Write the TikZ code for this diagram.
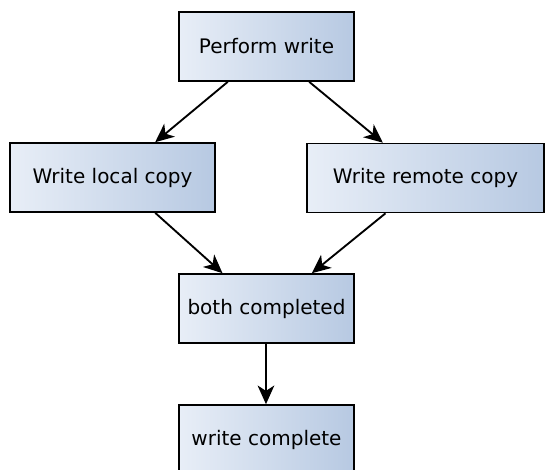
\documentclass[tikz,border=0pt]{standalone}
\usepackage{fontspec}
\setmainfont{DejaVu Sans}
\usepackage{tikz}
\usetikzlibrary{arrows.meta}
\usetikzlibrary{positioning}

\definecolor{boxleft}{HTML}{E8EEF7}
\definecolor{boxright}{HTML}{B7C9E2}

\tikzset{
    blk/.style={draw=black, line width=1.2pt, left color=boxleft, right color=boxright,
        minimum height=51.75pt, inner sep=0pt, align=center,
        font=\fontsize{15}{18}\selectfont},
    flow/.style={-{Stealth[length=14pt,width=12.5pt,inset=4pt]}, line width=1.4pt}
}

\begin{document}
\begin{tikzpicture}[x=0.75pt,y=-0.75pt]

        \useasboundingbox (0,0) rectangle (545,470);

        \node[blk,minimum width=131.25pt] (pw) at (266.5,46.5) {Perform write};
        \node[blk,minimum width=153.75pt] (loc) at (112.5,177.5) {Write local copy};
        \node[blk,minimum width=177.75pt] (rem) at (425.5,178) {Write remote copy};
        \node[blk,minimum width=131.25pt] (both) at (266.5,308.5) {both completed};
        \node[blk,minimum width=131.25pt] (done) at (266.5,439.5) {write complete};

        \draw[flow] ([xshift=-29pt]pw.south) -- ([xshift=32pt]loc.north);
        \draw[flow] ([xshift=32pt]pw.south) -- ([xshift=-32pt]rem.north);

        \draw[flow] ([xshift=32pt]loc.south) -- ([xshift=-33pt]both.north);
        \draw[flow] ([xshift=-30pt]rem.south) -- ([xshift=34pt]both.north);

        \draw[flow] ([xshift=-0.4pt]both.south) -- ([xshift=-0.4pt]done.north);

    \end{tikzpicture}
\end{document}
